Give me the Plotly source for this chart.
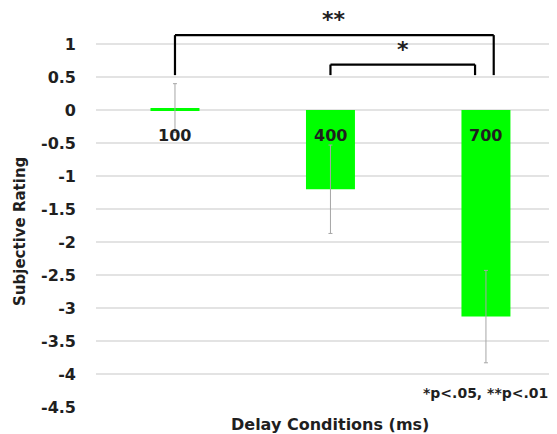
import plotly.graph_objects as go

categories = ["100", "400", "700"]
means = [0.03, -1.2, -3.13]
errors = [0.37, 0.67, 0.70]
ytick_vals = [1, 0.5, 0, -0.5, -1, -1.5, -2, -2.5, -3, -3.5, -4, -4.5]
ytick_text = ["1", "0.5", "0", "-0.5", "-1", "-1.5", "-2", "-2.5", "-3", "-3.5", "-4", "-4.5"]

FONT = "DejaVu Sans"
TXT = "#1f1f1f"
xpos = list(range(len(categories)))

fig = go.Figure()
fig.add_trace(go.Bar(
    x=xpos, y=means, width=0.315,
    marker=dict(color="#00ff00", line=dict(width=0)),
    error_y=dict(type="data", array=errors, visible=True, color="#a6a6a6", thickness=1, width=2),
    showlegend=False,
))

# category labels near zero line
for i, c in enumerate(categories):
    fig.add_annotation(x=xpos[i], y=0, text="<b>%s</b>" % c, showarrow=False,
                       yanchor="top", yshift=-14, font=dict(family=FONT, size=16, color=TXT))

# significance brackets
lw = 2.2
br = [(0, 2.05, 1.136, 0.53, "**"), (1.0, 1.93, 0.69, 0.53, "*")]
for x0, x1, ytop, ybot, lab in br:
    fig.add_shape(type="line", xref="x", yref="y", x0=x0, x1=x0, y0=ybot, y1=ytop, line=dict(color="black", width=lw))
    fig.add_shape(type="line", xref="x", yref="y", x0=x0, x1=x1, y0=ytop, y1=ytop, line=dict(color="black", width=lw))
    fig.add_shape(type="line", xref="x", yref="y", x0=x1, x1=x1, y0=ybot, y1=ytop, line=dict(color="black", width=lw))
    fig.add_annotation(x=(x0 + x1) / 2, y=ytop, text="<b>%s</b>" % lab, showarrow=False, yanchor="bottom",
                       yshift=1, font=dict(family=FONT, size=22, color=TXT))

fig.add_annotation(x=1.995, y=-4.29, text="<b>*p<.05, **p<.01</b>", showarrow=False,
                   font=dict(family=FONT, size=14, color=TXT))

# axis titles
fig.add_annotation(xref="paper", yref="paper", x=0.5076, y=-0.0466, text="<b>Delay Conditions (ms)</b>",
                   showarrow=False, yanchor="middle", font=dict(family=FONT, size=16, color=TXT))
fig.add_annotation(xref="paper", yref="paper", x=-0.1649, y=0.456, text="Subjective Rating", textangle=-90,
                   showarrow=False, xanchor="center", yanchor="middle",
                   font=dict(family=FONT, size=15, color=TXT, weight=600))

fig.update_layout(
    width=549, height=426,
    margin=dict(l=88, r=0, t=13, b=27),
    paper_bgcolor="white", plot_bgcolor="white",
    xaxis=dict(range=[-0.508, 2.457], showticklabels=False, showgrid=False, zeroline=False, showline=False, ticks=""),
    yaxis=dict(range=[-4.5, 1.35], tickvals=ytick_vals, ticktext=ytick_text, showgrid=True, gridcolor="#e3e3e3",
               gridwidth=1.5, zeroline=False, showline=False, ticks="", ticklabelstandoff=19,
               tickfont=dict(family=FONT, size=16, color=TXT, weight="bold")),
)
fig.write_html("out.html")
